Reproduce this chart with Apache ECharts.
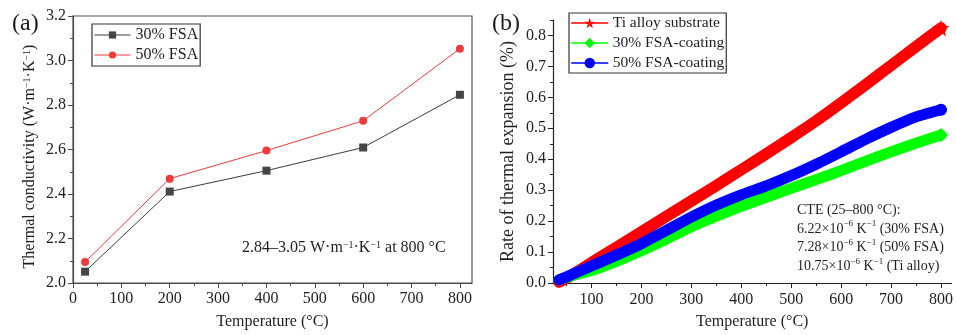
<!DOCTYPE html>
<html>
<head>
<meta charset="utf-8">
<script src="https://cdn.jsdelivr.net/npm/echarts@6/dist/echarts.min.js"></script>
<style>
html, body { margin: 0; padding: 0; background: #fff; }
#main { width: 956px; height: 335px; }
</style>
</head>
<body>
<div id="main"></div>
<script>
// (a) thermal conductivity vs temperature
const tempsA = [25, 200, 400, 600, 800]
const fsa30 = [2.051, 2.411, 2.505, 2.609, 2.846]
const fsa50 = [2.094, 2.469, 2.595, 2.729, 3.053]
const ticksAX = [0, 100, 200, 300, 400, 500, 600, 700, 800]
const minorAX = [50, 150, 250, 350, 450, 550, 650, 750]

// (b) thermal expansion rate vs temperature
const tempsB = [35, 50, 75, 100, 150, 200, 250, 300, 350, 400, 450, 500, 550, 600, 650, 700, 750, 800]
const tiAlloy = [0.003, 0.015, 0.04, 0.066, 0.115, 0.165, 0.215, 0.265, 0.315, 0.366, 0.417, 0.47, 0.524, 0.582, 0.642, 0.703, 0.764, 0.824]
const coat30 = [0.01, 0.018, 0.03, 0.04, 0.07, 0.104, 0.142, 0.182, 0.216, 0.248, 0.277, 0.306, 0.334, 0.363, 0.394, 0.424, 0.452, 0.478]
const coat50 = [0.01, 0.02, 0.037, 0.055, 0.09, 0.127, 0.17, 0.213, 0.252, 0.285, 0.314, 0.347, 0.384, 0.424, 0.465, 0.503, 0.537, 0.56]
const ticksBX = [100, 200, 300, 400, 500, 600, 700, 800]
const minorBX = [50, 150, 250, 350, 450, 550, 650, 750]
const ticksBY = [0, 0.1, 0.2, 0.3, 0.4, 0.5, 0.6, 0.7, 0.8]
const minorBY = [0.05, 0.15, 0.25, 0.35, 0.45, 0.55, 0.65, 0.75, 0.85]

const FONT = 'Liberation Serif'
const TXT = '#1e1e1e'
const sup = { fontSize: 10, fontFamily: FONT, color: TXT, verticalAlign: 'top', lineHeight: 10 }
const supS = { fontSize: 9, fontFamily: FONT, color: TXT, verticalAlign: 'top', lineHeight: 9 }

const chart = echarts.init(document.getElementById('main'), null, { renderer: 'canvas' })

const pair = (xs, ys) => xs.map((x, i) => [x, ys[i]])

function mainAxisX(grid, min, max, ticks, color, margin, name) {
    return {
        type: 'value', gridIndex: grid, min: min, max: max, position: 'bottom',
        axisLine: { show: true, lineStyle: { color: color, width: 1.2 } },
        axisTick: { show: true, customValues: ticks, length: 5, lineStyle: { color: color } },
        axisLabel: { customValues: ticks, margin: margin, color: TXT, fontSize: 16, fontFamily: FONT },
        splitLine: { show: false },
        name: name, nameLocation: 'middle', nameGap: 31,
        nameTextStyle: { color: TXT, fontSize: 16, fontFamily: FONT }
    }
}
function minorAxis(kind, grid, min, max, ticks, color) {
    return {
        type: 'value', gridIndex: grid, min: min, max: max,
        position: kind === 'x' ? 'bottom' : 'left',
        axisLine: { show: false },
        axisTick: { show: true, customValues: ticks, length: 3, lineStyle: { color: color } },
        axisLabel: { show: false },
        splitLine: { show: false }
    }
}

const option = {
    backgroundColor: '#fff',
    animation: false,
    grid: [
        { left: 73, top: 16, width: 399, height: 268, show: true, borderColor: '#555', borderWidth: 1.2 },
        { left: 553, top: 20, width: 400, height: 266 }
    ],
    xAxis: [
        mainAxisX(0, 0, 825, ticksAX, '#4a4a4a', 8, 'Temperature (°C)'),
        minorAxis('x', 0, 0, 825, minorAX, '#4a4a4a'),
        mainAxisX(1, 23, 821, ticksBX, '#222', 9, 'Temperature (°C)'),
        minorAxis('x', 1, 23, 821, minorBX, '#222')
    ],
    yAxis: [
        {
            type: 'value', gridIndex: 0, min: 2.0, max: 3.2, interval: 0.2,
            axisLine: { show: true, lineStyle: { color: '#4a4a4a', width: 1.2 } },
            axisTick: { show: true, length: 5 },
            minorTick: { show: true, splitNumber: 2, length: 3, lineStyle: { color: '#4a4a4a' } },
            axisLabel: { margin: 7, color: TXT, fontSize: 16, fontFamily: FONT, formatter: v => v.toFixed(1) },
            splitLine: { show: false },
            name: 'Thermal conductivity (W·m{s|−1}·K{s|−1})',
            nameLocation: 'middle', nameGap: 35,
            nameTextStyle: { color: TXT, fontSize: 16, fontFamily: FONT, padding: [0, 14, 0, 0], rich: { s: sup } }
        },
        {
            type: 'value', gridIndex: 1, min: 0, max: 0.85,
            axisLine: { show: true, lineStyle: { color: '#222', width: 1.2 } },
            axisTick: { show: true, customValues: ticksBY, length: 5 },
            axisLabel: { customValues: ticksBY, margin: 7, color: TXT, fontSize: 16, fontFamily: FONT, formatter: v => v.toFixed(1) },
            splitLine: { show: false },
            name: 'Rate of thermal expansion (%)',
            nameLocation: 'middle', nameGap: 36,
            nameTextStyle: { color: TXT, fontSize: 18, fontFamily: FONT }
        },
        minorAxis('y', 1, 0, 0.85, minorBY, '#222')
    ],
    legend: [
        {
            data: ['30% FSA', '50% FSA'],
            left: 92, top: 24, orient: 'vertical',
            itemWidth: 36, itemHeight: 9, itemGap: 4,
            padding: [3, 2, 3, 2],
            borderColor: '#333', borderWidth: 1.2,
            lineStyle: { width: 1 },
            textStyle: { fontSize: 16, fontFamily: FONT, color: TXT, lineHeight: 16 }
        },
        {
            data: ['Ti alloy substrate', '30% FSA-coating', '50% FSA-coating'],
            left: 569, top: 13, orient: 'vertical',
            itemWidth: 36, itemHeight: 13, itemGap: 4,
            padding: [2, 2, 2, 2],
            borderColor: '#333', borderWidth: 1.2,
            lineStyle: { width: 1.5 },
            textStyle: { fontSize: 15.5, fontFamily: FONT, color: TXT, lineHeight: 16 }
        }
    ],
    series: [
        {
            name: '30% FSA', type: 'line', xAxisIndex: 0, yAxisIndex: 0,
            data: pair(tempsA, fsa30),
            symbol: 'rect', symbolSize: 8,
            lineStyle: { color: '#3c3c3c', width: 1 },
            itemStyle: { color: '#454545' }
        },
        {
            name: '50% FSA', type: 'line', xAxisIndex: 0, yAxisIndex: 0,
            data: pair(tempsA, fsa50),
            symbol: 'circle', symbolSize: 8,
            lineStyle: { color: '#ee3a3a', width: 1 },
            itemStyle: { color: '#ee3a3a' }
        },
        {
            name: 'Ti alloy substrate', type: 'line', xAxisIndex: 2, yAxisIndex: 1,
            data: pair(tempsB, tiAlloy), smooth: 0.2,
            symbol: 'path://M50,0 L61,35 L98,35 L68,57 L79,91 L50,70 L21,91 L32,57 L2,35 L39,35 Z',
            symbolSize: (v, p) => p.dataIndex === tempsB.length - 1 ? 17 : 0,
            lineStyle: { color: '#ff0000', width: 11.5, cap: 'round', join: 'round' },
            itemStyle: { color: '#ff0000' }
        },
        {
            name: '30% FSA-coating', type: 'line', xAxisIndex: 2, yAxisIndex: 1,
            data: pair(tempsB, coat30), smooth: 0.2,
            symbol: 'diamond', symbolSize: (v, p) => p.dataIndex === tempsB.length - 1 ? 14 : 0,
            lineStyle: { color: '#00ff00', width: 11, cap: 'round', join: 'round' },
            itemStyle: { color: '#00ff00' }
        },
        {
            name: '50% FSA-coating', type: 'line', xAxisIndex: 2, yAxisIndex: 1,
            data: pair(tempsB, coat50), smooth: 0.2,
            symbol: 'circle', symbolSize: (v, p) => p.dataIndex === tempsB.length - 1 ? 12 : 0,
            lineStyle: { color: '#0000ff', width: 11, cap: 'round', join: 'round' },
            itemStyle: { color: '#0000ff' }
        }
    ],
    graphic: [
        { type: 'text', left: 12, top: 12, style: { text: '(a)', fontSize: 24, fontFamily: FONT, fill: TXT } },
        { type: 'text', left: 492, top: 12, style: { text: '(b)', fontSize: 24, fontFamily: FONT, fill: TXT } },
        {
            type: 'text', left: 242, top: 240,
            style: { text: '2.84–3.05 W·m{s|−1}·K{s|−1} at 800 °C', fontSize: 16, fontFamily: FONT, fill: TXT, rich: { s: sup } }
        },
        {
            type: 'text', left: 797, top: 201,
            style: {
                text: 'CTE (25–800 °C):\n6.22×10{s|−6} K{s|−1} (30% FSA)\n7.28×10{s|−6} K{s|−1} (50% FSA)\n10.75×10{s|−6} K{s|−1} (Ti alloy)',
                fontSize: 14, fontFamily: FONT, fill: TXT, lineHeight: 18.6, rich: { s: supS }
            }
        }
    ]
}

chart.setOption(option)
</script>
</body>
</html>
